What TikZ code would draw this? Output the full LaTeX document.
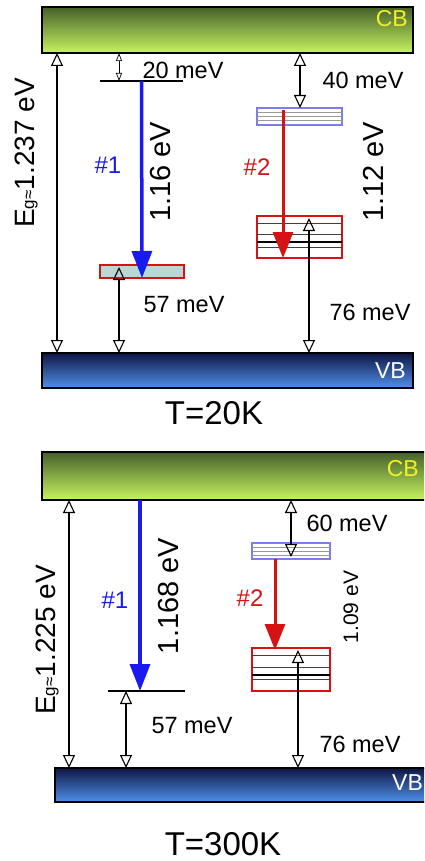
\documentclass[tikz,border=0pt]{standalone}
\usepackage{fontspec}
\setmainfont{Liberation Sans}
\usepackage{tikz}
\usetikzlibrary{positioning,calc,arrows.meta}
\definecolor{bandcbtop}{RGB}{70,96,42}
\definecolor{bandcbbot}{RGB}{198,244,96}
\definecolor{bandvbtop}{RGB}{14,22,68}
\definecolor{bandvbbot}{RGB}{80,144,234}
\definecolor{levelblue}{RGB}{26,26,240}
\definecolor{levelred}{RGB}{214,18,18}
\definecolor{levelframe}{RGB}{124,124,236}
\definecolor{levelteal}{RGB}{186,214,214}
\definecolor{cblabel}{RGB}{240,240,40}

\tikzset{
  band/.style={draw=black, line width=1.3pt, inner sep=0pt, outer sep=0pt, anchor=north west},
  cbband/.style={band, top color=bandcbtop, bottom color=bandcbbot},
  vbband/.style={band, top color=bandvbtop, bottom color=bandvbbot},
  levelspan/.style={inner sep=0pt, outer sep=0pt, minimum height=0pt},
  levelline/.style={line width=1.3pt},
  shallowbox/.style={draw=levelframe, line width=1.3pt, fill=white, inner sep=0pt, outer sep=0pt},
  deepbox/.style={draw=levelred, line width=1.3pt, fill=white, inner sep=0pt, outer sep=0pt},
  gaparrow/.style={line width=1.1pt, {Triangle[open,length=13pt,width=12pt]}-{Triangle[open,length=13pt,width=12pt]}},
  smallarrow/.style={line width=0.7pt, {Triangle[open,length=8pt,width=6pt]}-{Triangle[open,length=8pt,width=6pt]}},
  bluearrow/.style={line width=3.5pt, levelblue, -{Triangle[length=27pt,width=20pt]}},
  redarrow/.style={line width=3pt, levelred, -{Triangle[length=26pt,width=20pt]}},
  mevtext/.style={font=\fontsize{23.5}{26}\selectfont, inner sep=0pt},
  evtext/.style={font=\fontsize{29}{32}\selectfont, rotate=90, inner sep=0pt},
  egtext/.style={font=\fontsize{28}{30}\selectfont, rotate=90, inner sep=0pt},
  bandtext/.style={font=\fontsize{23}{25}\selectfont, inner sep=0pt},
  numtext/.style={font=\fontsize{24}{26}\selectfont, inner sep=0pt},
  temptext/.style={font=\fontsize{33}{36}\selectfont, inner sep=0pt}
}

\begin{document}
\begin{tikzpicture}[x=1pt,y=-1pt]
  \clip (0,0) rectangle (424,861);

  % T = 20 K
  \node[cbband, minimum width=371pt, minimum height=46pt] (cbA) at (42,7) {};
  \node[vbband, minimum width=371pt, minimum height=35pt] (vbA) at (42,353) {};
  \node[bandtext, text=cblabel, anchor=east] (cbAlabel) at (408,19) {CB};
  \node[bandtext, text=white, anchor=east] (vbAlabel) at (406,371) {VB};

  \node[levelspan, minimum width=83pt] (l1A) at (141.5,81) {};
  \node[levelspan, draw=levelred, fill=levelteal, line width=1.3pt, minimum width=84pt, minimum height=13pt] (b1A) at (142,271.5) {};
  \node[shallowbox, minimum width=85pt, minimum height=17pt] (t2A) at (299.5,116.5) {};
  \node[deepbox, minimum width=85pt, minimum height=42pt] (b2A) at (299.5,237) {};
  \draw[levelline] (l1A.west) -- (l1A.east);
  \foreach \f in {0.25,0.5,0.76}
    \draw[gray!80,line width=0.9pt] ($(t2A.north west)!\f!(t2A.south west)$) -- ($(t2A.north east)!\f!(t2A.south east)$);
  \foreach \f in {0.17,0.45,0.74}
    \draw[black!75,line width=0.9pt] ($(b2A.north west)!\f!(b2A.south west)$) -- ($(b2A.north east)!\f!(b2A.south east)$);
  \draw[line width=1.8pt] ($(b2A.north west)!0.62!(b2A.south west)$) -- ($(b2A.north east)!0.62!(b2A.south east)$);

  \coordinate (egA) at (57,0);
  \coordinate (s1A) at (119,0);
  \coordinate (s2A) at (300,0);
  \coordinate (r2A) at (283,0);
  \coordinate (d2A) at (309,0);
  \draw[gaparrow] (cbA.south -| egA) -- (vbA.north -| egA);
  \draw[smallarrow] (cbA.south -| s1A) -- (l1A.west -| s1A);
  \draw[gaparrow] (vbA.north -| s1A) -- ([yshift=-2pt]b1A.north -| s1A);
  \draw[gaparrow] (cbA.south -| s2A) -- (t2A.north -| s2A);
  \draw[gaparrow] (vbA.north -| d2A) -- ([yshift=-2pt]b2A.north -| d2A);
  \draw[bluearrow] (l1A.center) -- (b1A.south);
  \draw[redarrow] ([yshift=-2pt]t2A.north -| r2A) -- (b2A.south -| r2A);

  \node[egtext] (egAlabel) at (26,153) {E{\fontsize{17}{17}\selectfont g≈}1.237 eV};
  \node[evtext] (e1A) at (161,172) {1.16 eV};
  \node[evtext] (e2A) at (374,172) {1.12 eV};
  \node[numtext, text=levelblue] (n1A) at (108,165) {\#1};
  \node[numtext, text=levelred] (n2A) at (257,167) {\#2};
  \foreach \name/\xpos/\ypos/\txt in {m1A/183/70/20 meV, m2A/363/80/40 meV, m3A/184/305/57 meV, m4A/370/312/76 meV}
    \node[mevtext] (\name) at (\xpos,\ypos) {\txt};
  \node[temptext] (tA) at (214,413) {T=20K};

  % T = 300 K
  \node[cbband, minimum width=398pt, minimum height=48pt] (cbB) at (42,452) {};
  \node[vbband, minimum width=385pt, minimum height=34pt] (vbB) at (55,768) {};
  \node[bandtext, text=cblabel, anchor=east] (cbBlabel) at (419,469) {CB};
  \node[bandtext, text=white, anchor=west] (vbBlabel) at (392,783) {VB};

  \node[levelspan, minimum width=77pt] (l1B) at (146.5,691) {};
  \node[shallowbox, minimum width=78pt, minimum height=16pt] (t2B) at (291,551) {};
  \node[deepbox, minimum width=78pt, minimum height=43pt] (b2B) at (291,669.5) {};
  \draw[levelline] (l1B.west) -- (l1B.east);
  \foreach \f in {0.25,0.5,0.76}
    \draw[gray!80,line width=0.9pt] ($(t2B.north west)!\f!(t2B.south west)$) -- ($(t2B.north east)!\f!(t2B.south east)$);
  \foreach \f in {0.17,0.45,0.74}
    \draw[black!75,line width=0.9pt] ($(b2B.north west)!\f!(b2B.south west)$) -- ($(b2B.north east)!\f!(b2B.south east)$);
  \draw[line width=1.8pt] ($(b2B.north west)!0.62!(b2B.south west)$) -- ($(b2B.north east)!0.62!(b2B.south east)$);

  \coordinate (egB) at (69,0);
  \coordinate (s1B) at (126,0);
  \coordinate (b1B) at (140,0);
  \coordinate (s2B) at (291,0);
  \coordinate (r2B) at (275,0);
  \coordinate (d2B) at (298,0);
  \draw[gaparrow] (cbB.south -| egB) -- (vbB.north -| egB);
  \draw[gaparrow] (vbB.north -| s1B) -- (l1B.west -| s1B);
  \draw[gaparrow] (cbB.south -| s2B) -- ([yshift=2pt]t2B.south -| s2B);
  \draw[gaparrow] (vbB.north -| d2B) -- ([yshift=-2pt]b2B.north -| d2B);
  \draw[bluearrow] (cbB.south -| b1B) -- (l1B.center -| b1B);
  \draw[redarrow] (t2B.south -| r2B) -- ([yshift=-2pt]b2B.north -| r2B);

  \node[egtext] (egBlabel) at (47,640) {E{\fontsize{17}{17}\selectfont g≈}1.225 eV};
  \node[evtext] (e1B) at (169,596) {1.168 eV};
  \node[evtext, font=\fontsize{21}{24}\selectfont] (e2B) at (351,607) {1.09 eV};
  \node[numtext, text=levelblue] (n1B) at (115,600) {\#1};
  \node[numtext, text=levelred] (n2B) at (250,598) {\#2};
  \foreach \name/\xpos/\ypos/\txt in {m1B/347/523/60 meV, m2B/192/726/57 meV, m3B/360/744/76 meV}
    \node[mevtext] (\name) at (\xpos,\ypos) {\txt};
  \node[temptext] (tB) at (223,844) {T=300K};
\end{tikzpicture}
\end{document}
